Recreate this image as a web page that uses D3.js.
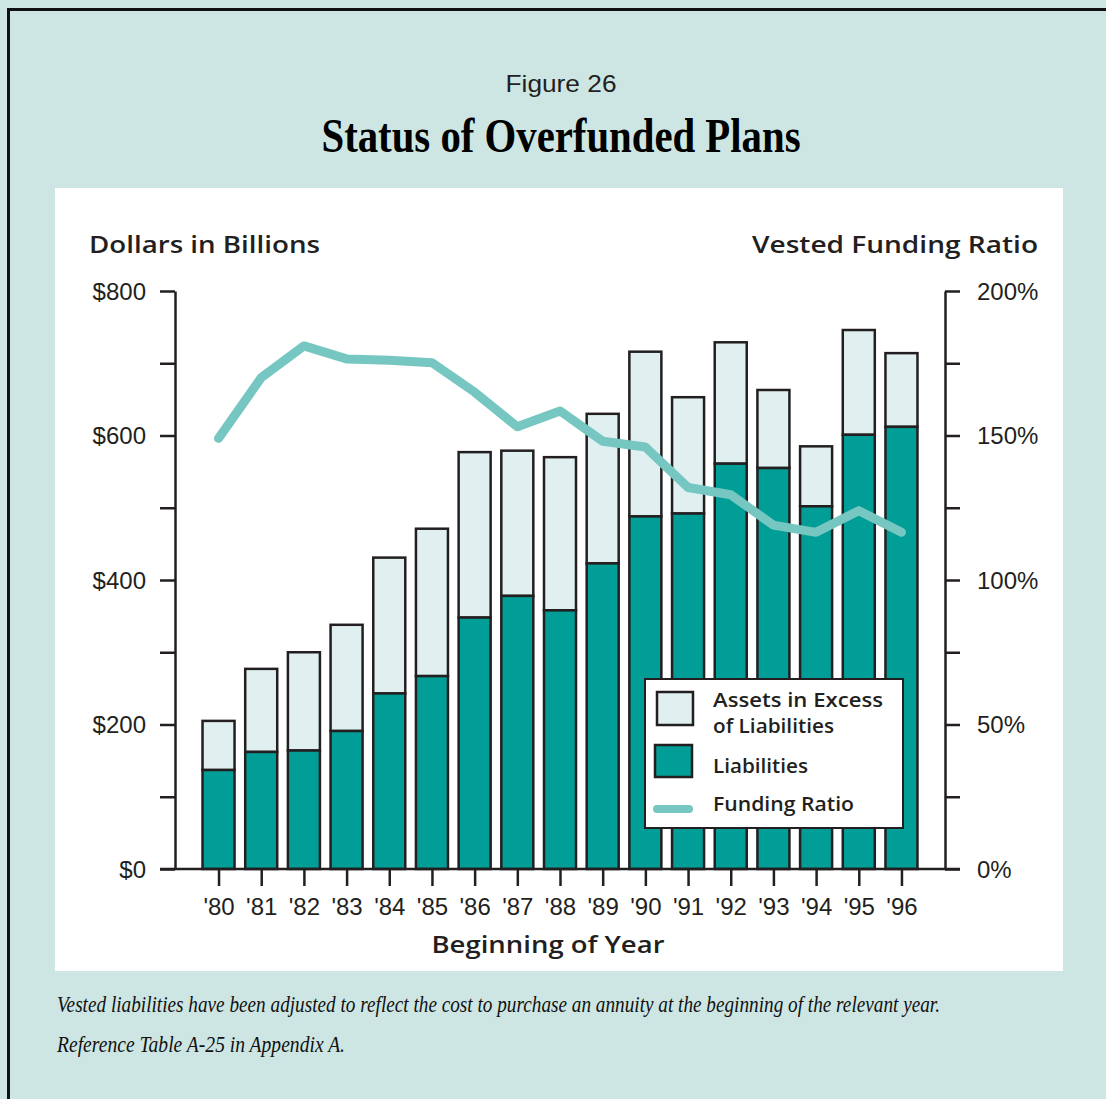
<!DOCTYPE html>
<html><head><meta charset="utf-8">
<script src="https://cdn.jsdelivr.net/npm/d3@7"></script>
<style>html,body{margin:0;padding:0;background:#cde6e3;}svg{display:block;}</style>
</head><body>
<script>
// ---- data ----
const years = ["'80","'81","'82","'83","'84","'85","'86","'87","'88","'89","'90","'91","'92","'93","'94","'95","'96"];
const liabilities = [137,162,164,191,243,267,348,378,358,423,488,492,561,555,502,601,612];
const totalAssets = [205,277,300,338,431,471,577,579,570,630,716,653,729,663,585,746,714];
const fundingRatio = [149,170,181,176.5,176,175.2,165,153,158.5,148,146,132,129.5,119,116.5,124,116.5];
const leftTicks = [0,200,400,600,800];
const rightTicks = [0,50,100,150,200];

const W = 1106, H = 1099;
const svg = d3.select("body").append("svg").attr("width", W).attr("height", H);
const ink = "#231f20", dark = "#009e96", light = "#e0f0f0", lineC = "#76c6c2";

// frame
svg.append("rect").attr("x",0).attr("y",0).attr("width",W).attr("height",H).attr("fill","#cde6e3");
svg.append("path").attr("d",`M8.5,${H} V9.5 H${W}`).attr("fill","none").attr("stroke","#111").attr("stroke-width",3);
svg.append("rect").attr("x",55).attr("y",188).attr("width",1008).attr("height",783).attr("fill","#fff");

// titles
svg.append("text").attr("x",561).attr("y",92).attr("text-anchor","middle")
  .attr("font-family","Liberation Sans, Arial, sans-serif").attr("font-size",24).attr("fill",ink)
  .attr("textLength",111).attr("lengthAdjust","spacingAndGlyphs").text("Figure 26");
svg.append("text").attr("x",561).attr("y",152).attr("text-anchor","middle")
  .attr("font-family","Liberation Serif, Times New Roman, serif").attr("font-weight","bold").attr("font-size",48).attr("fill","#000")
  .attr("textLength",479).attr("lengthAdjust","spacingAndGlyphs").text("Status of Overfunded Plans");

// scales
const x = d3.scalePoint().domain(years).range([175,945]).padding(1.02);
const yL = d3.scaleLinear().domain([0,800]).range([869,291]);
const yR = d3.scaleLinear().domain([0,200]).range([869,291]);
const bw = x.step()*0.75;

const sans = "Liberation Sans, Arial, sans-serif";
const boldSans = "Open Sans, Liberation Sans, Arial, sans-serif";

// axis titles
svg.append("text").attr("x",89).attr("y",253).attr("font-family",boldSans).attr("font-weight",600)
  .attr("font-size",24).attr("fill",ink).attr("textLength",231).attr("lengthAdjust","spacingAndGlyphs").text("Dollars in Billions");
svg.append("text").attr("x",752).attr("y",253).attr("font-family",boldSans).attr("font-weight",600)
  .attr("font-size",24).attr("fill",ink).attr("textLength",286).attr("lengthAdjust","spacingAndGlyphs").text("Vested Funding Ratio");
svg.append("text").attr("x",548).attr("y",953).attr("text-anchor","middle").attr("font-family",boldSans).attr("font-weight",600)
  .attr("font-size",24).attr("fill",ink).attr("textLength",233).attr("lengthAdjust","spacingAndGlyphs").text("Beginning of Year");

// bars
const g = svg.append("g");
years.forEach((yr,i)=>{
  g.append("rect").attr("x",x(yr)-bw/2).attr("y",yL(totalAssets[i])).attr("width",bw)
    .attr("height",yL(liabilities[i])-yL(totalAssets[i])).attr("fill",light).attr("stroke",ink).attr("stroke-width",2.5);
  g.append("rect").attr("x",x(yr)-bw/2).attr("y",yL(liabilities[i])).attr("width",bw)
    .attr("height",yL(0)-yL(liabilities[i])).attr("fill",dark).attr("stroke",ink).attr("stroke-width",2.5);
});

// axes
function styleAxis(sel){
  sel.select(".domain").attr("stroke",ink).attr("stroke-width",2.5);
  sel.selectAll(".tick line").attr("stroke",ink).attr("stroke-width",2.5);
  sel.selectAll(".tick text").attr("font-family",sans).attr("font-size",24).attr("fill",ink);
}
const axL = svg.append("g").attr("transform","translate(175,0)")
  .call(d3.axisLeft(yL).tickValues(d3.range(0,801,100)).tickSize(15).tickSizeOuter(0).tickPadding(14)
    .tickFormat(d=>leftTicks.includes(d)?"$"+d:""));
styleAxis(axL);
axL.selectAll(".tick text").attr("dy","0.35em");
const axR = svg.append("g").attr("transform","translate(945,0)")
  .call(d3.axisRight(yR).tickValues(d3.range(0,201,25)).tickSize(15).tickSizeOuter(0).tickPadding(17)
    .tickFormat(d=>rightTicks.includes(d)?d+"%":""));
styleAxis(axR);
axR.selectAll(".tick text").attr("dy","0.35em");
const axB = svg.append("g").attr("transform","translate(0,869)")
  .call(d3.axisBottom(x).tickSize(17).tickSizeOuter(0).tickPadding(12));
axB.select(".domain").attr("d","M160,0H960");
styleAxis(axB);
axB.selectAll(".tick text").attr("font-size",24);

// line
const line = d3.line().x((d,i)=>x(years[i])).y(d=>yR(d));
svg.append("path").datum(fundingRatio).attr("d",line).attr("fill","none").attr("stroke",lineC)
  .attr("stroke-width",9).attr("stroke-linejoin","round").attr("stroke-linecap","round");

// legend
const lg = svg.append("g");
lg.append("rect").attr("x",645).attr("y",679).attr("width",258).attr("height",149).attr("fill","#fff").attr("stroke",ink).attr("stroke-width",2);
lg.append("rect").attr("x",657).attr("y",692).attr("width",36).attr("height",33).attr("fill",light).attr("stroke",ink).attr("stroke-width",2.5);
lg.append("rect").attr("x",655).attr("y",745).attr("width",37).attr("height",32).attr("fill",dark).attr("stroke",ink).attr("stroke-width",2.5);
lg.append("line").attr("x1",657).attr("x2",689).attr("y1",809).attr("y2",809).attr("stroke",lineC).attr("stroke-width",8).attr("stroke-linecap","round");
const legTexts = [["Assets in Excess",707,170],["of Liabilities",733,121],["Liabilities",773,95],["Funding Ratio",811,141]];
legTexts.forEach(([t,yy,w])=>{
  lg.append("text").attr("x",713).attr("y",yy).attr("font-family",boldSans).attr("font-weight",600)
    .attr("font-size",20).attr("fill",ink).attr("textLength",w).attr("lengthAdjust","spacingAndGlyphs").text(t);
});

// footnotes
svg.append("text").attr("x",57).attr("y",1012).attr("font-family","Liberation Serif, Times New Roman, serif").attr("font-style","italic")
  .attr("font-size",23).attr("fill","#111").attr("textLength",883).attr("lengthAdjust","spacingAndGlyphs")
  .text("Vested liabilities have been adjusted to reflect the cost to purchase an annuity at the beginning of the relevant year.");
svg.append("text").attr("x",57).attr("y",1052).attr("font-family","Liberation Serif, Times New Roman, serif").attr("font-style","italic")
  .attr("font-size",23).attr("fill","#111").attr("textLength",288).attr("lengthAdjust","spacingAndGlyphs")
  .text("Reference Table A-25 in Appendix A.");
</script>
</body></html>
